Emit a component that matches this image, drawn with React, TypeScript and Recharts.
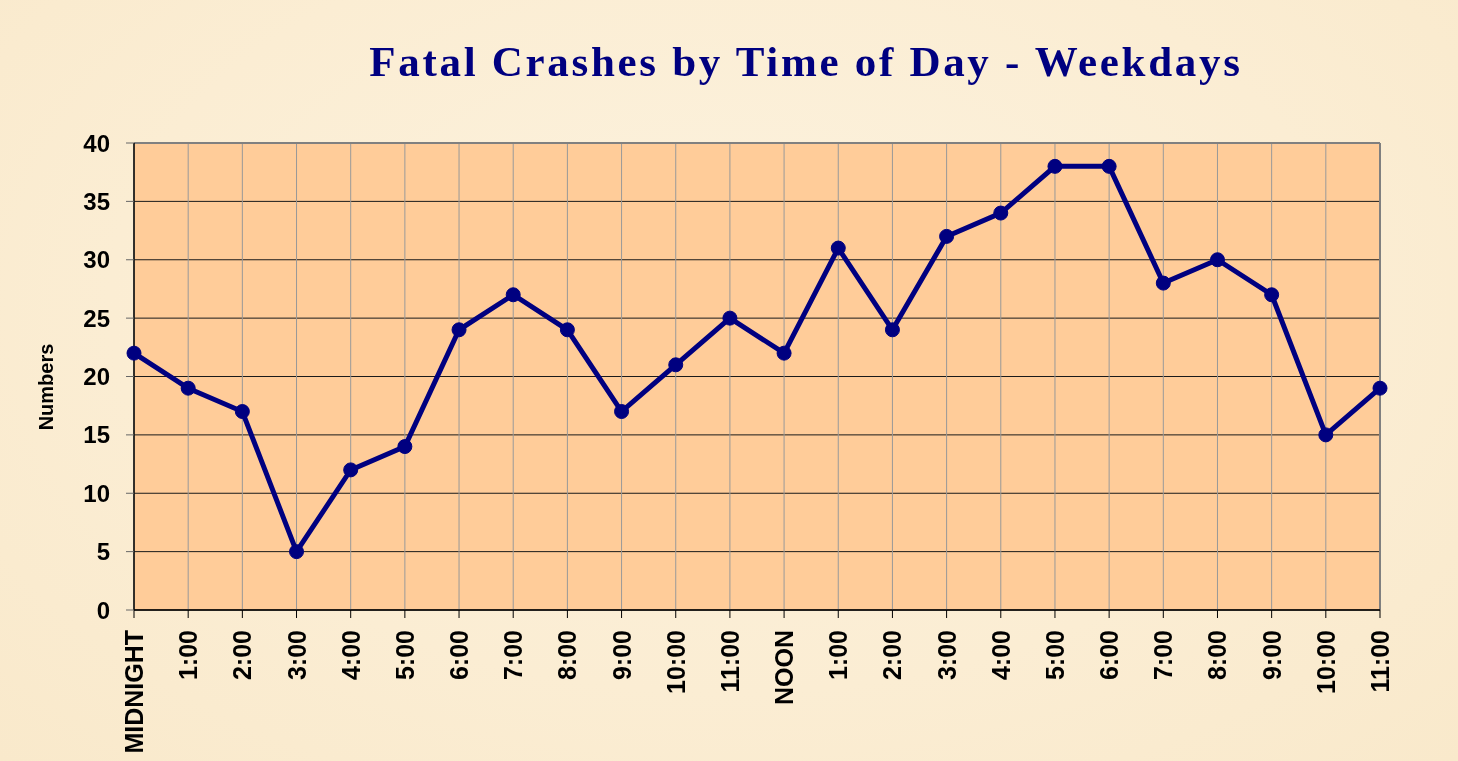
import { LineChart, Line, XAxis, YAxis, CartesianGrid, ReferenceLine } from 'recharts'

const hours = [
  'MIDNIGHT', '1:00', '2:00', '3:00', '4:00', '5:00', '6:00', '7:00', '8:00', '9:00', '10:00', '11:00',
  'NOON', '1:00 ', '2:00 ', '3:00 ', '4:00 ', '5:00 ', '6:00 ', '7:00 ', '8:00 ', '9:00 ', '10:00 ', '11:00 ',
]
const crashes = [22, 19, 17, 5, 12, 14, 24, 27, 24, 17, 21, 25, 22, 31, 24, 32, 34, 38, 38, 28, 30, 27, 15, 19]
const yTicks = [0, 5, 10, 15, 20, 25, 30, 35, 40]

const data = hours.map((h, i) => ({ hour: h, value: crashes[i] }))

const NAVY = '#000080'

function XTick(props: any) {
  const { x, y, payload } = props
  return (
    <text
      x={x}
      y={y}
      transform={`rotate(-90, ${x}, ${y})`}
      textAnchor="end"
      dominantBaseline="central"
      fontFamily="'Liberation Sans', Arial, sans-serif"
      fontWeight="bold"
      fontSize={25}
      fill="#000"
    >
      {String(payload.value).trim()}
    </text>
  )
}

export default function App() {
  return (
    <div
      style={{
        position: 'fixed',
        left: 0,
        top: 0,
        width: 1458,
        height: 761,
        background: 'radial-gradient(ellipse at 50% 40%, #fcf2de 0%, #fbedd3 60%, #f9e9cb 100%)',
      }}
    >
      <div
        style={{
          position: 'absolute',
          left: 0,
          top: 37,
          width: 1612,
          textAlign: 'center',
          fontFamily: "'Liberation Serif', 'Times New Roman', serif",
          fontWeight: 'bold',
          fontSize: 43,
          letterSpacing: 2.7,
          color: NAVY,
        }}
      >
        Fatal Crashes by Time of Day - Weekdays
      </div>
      <div
        style={{
          position: 'absolute',
          left: 46,
          top: 387,
          transform: 'translate(-50%, -50%) rotate(-90deg)',
          fontFamily: "'Liberation Sans', Arial, sans-serif",
          fontWeight: 'bold',
          fontSize: 20,
          whiteSpace: 'nowrap',
        }}
      >
        Numbers
      </div>
      <LineChart
        width={1458}
        height={761}
        data={data}
        margin={{ top: 143, right: 78, left: 74, bottom: 6 }}
        style={{ position: 'absolute', left: 0, top: 0 }}
      >
        <CartesianGrid vertical={false} horizontal stroke="#1a1a1a" fill="#ffcc99" fillOpacity={1} />
        <CartesianGrid horizontal={false} vertical stroke="#999" />
        <ReferenceLine y={40} stroke="#808080" strokeWidth={2} />
        <ReferenceLine x="11:00 " stroke="#808080" strokeWidth={2} />
        <XAxis
          dataKey="hour"
          interval={0}
          padding={{ left: 0, right: 0 }}
          height={145}
          tick={<XTick />}
          tickSize={8}
          tickMargin={12}
          stroke="#000"
          axisLine={{ stroke: '#000', strokeWidth: 1.5 }}
        />
        <YAxis
          domain={[0, 40]}
          ticks={yTicks}
          width={60}
          tickSize={8}
          tickMargin={16}
          stroke="#000"
          axisLine={{ stroke: '#000', strokeWidth: 1.5 }}
          tickLine={{ stroke: '#666' }}
          tick={{ fill: '#000', fontSize: 24, fontWeight: 'bold', fontFamily: "'Liberation Sans', Arial, sans-serif" }}
        />
        <Line
          type="linear"
          dataKey="value"
          stroke={NAVY}
          strokeWidth={5}
          dot={{ r: 7, fill: NAVY, stroke: NAVY, strokeWidth: 1 }}
          isAnimationActive={false}
        />
      </LineChart>
    </div>
  )
}
